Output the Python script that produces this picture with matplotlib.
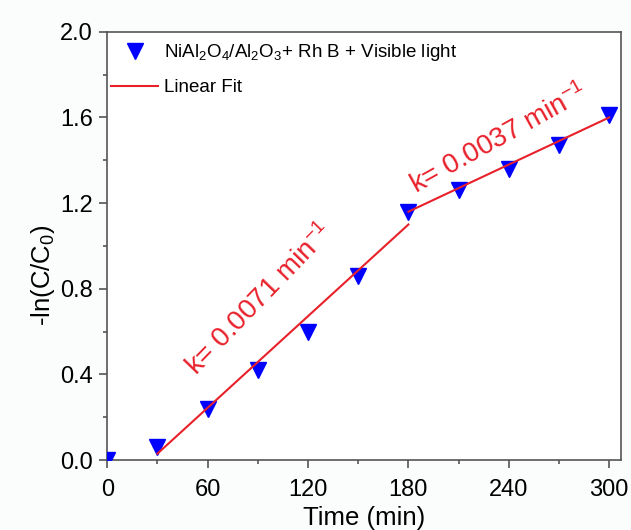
import numpy as np
import matplotlib
matplotlib.use('Agg')
import matplotlib.pyplot as plt
from matplotlib.ticker import MultipleLocator

plt.rcParams['font.family'] = ['Liberation Sans', 'DejaVu Sans']
plt.rcParams['mathtext.fontset'] = 'custom'
plt.rcParams['mathtext.rm'] = 'Liberation Sans'
plt.rcParams['mathtext.it'] = 'Liberation Sans'

# data
time = [0, 30, 60, 90, 120, 150, 180, 210, 240, 270, 300]
lnC = [0.0, 0.06, 0.24, 0.42, 0.60, 0.86, 1.16, 1.26, 1.36, 1.47, 1.61]

# linear fits (end points)
fit1_t = [30, 180]
fit1_y = [0.03, 1.10]
fit2_t = [180, 300]
fit2_y = [1.16, 1.60]

k_labels = ['k= 0.0071 min$^{-1}$', 'k= 0.0037 min$^{-1}$']

fig = plt.figure(figsize=(6.31, 5.30), dpi=100, facecolor='#fbfcfc')
ax = fig.add_axes([0.170, 0.132, 0.814, 0.808])
ax.set_facecolor('white')

red = '#e8202a'
ax.plot(time, lnC, 'v', color='#0000ff', markersize=12, linestyle='none',
        label='NiAl$_2$O$_4$/Al$_2$O$_3$+ Rh B + Visible light', zorder=3)
ax.plot(fit1_t, fit1_y, color=red, lw=1.5, label='Linear Fit', zorder=4)
ax.plot(fit2_t, fit2_y, color=red, lw=1.5, zorder=4)

ax.text(91, 0.75, k_labels[0], color=red, fontsize=20, rotation=46,
        ha='center', va='center')
ax.text(234, 1.50, k_labels[1], color=red, fontsize=20, rotation=29,
        ha='center', va='center')

ax.set_xlim(0, 307)
ax.set_ylim(0, 2.0)
ax.xaxis.set_major_locator(MultipleLocator(60))
ax.xaxis.set_minor_locator(MultipleLocator(30))
ax.yaxis.set_major_locator(MultipleLocator(0.4))
ax.yaxis.set_minor_locator(MultipleLocator(0.2))
ax.yaxis.set_major_formatter(plt.FormatStrFormatter('%.1f'))

for s in ax.spines.values():
    s.set_color('#555555')
    s.set_linewidth(1.2)
ax.tick_params(which='both', direction='out', color='#555555', width=1.2,
               labelsize=17, top=False, right=False)
ax.tick_params(which='major', length=5.5)
ax.tick_params(which='minor', length=3)
ax.tick_params(axis='x', which='major', pad=8)
ax.tick_params(axis='y', which='major', pad=5)

ax.set_xlabel('Time (min)', fontsize=18.5, va='top')
ax.xaxis.set_label_coords(0.5, -0.107)
ax.set_ylabel('-ln(C/C$_0$)', fontsize=18.5, va='center', ha='center')
ax.yaxis.set_label_coords(-0.126, 0.431)

leg = ax.legend(loc='upper left', bbox_to_anchor=(-0.012, 1.0), frameon=False,
                fontsize=13.5, handlelength=2.5, borderaxespad=0.1,
                borderpad=0.45, labelspacing=0.85, handletextpad=0.3)

fig.savefig('out.png', dpi=100, facecolor=fig.get_facecolor())
